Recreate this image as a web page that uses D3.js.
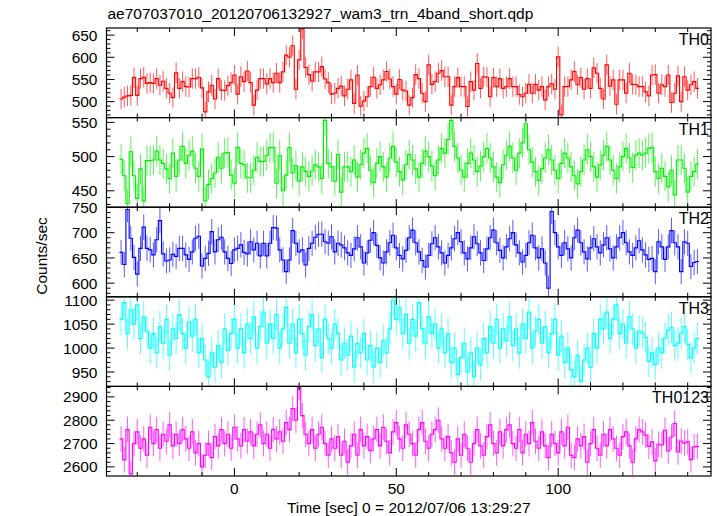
<!DOCTYPE html>
<html><head><meta charset="utf-8">
<script src="https://cdn.jsdelivr.net/npm/d3@7"></script>
<style>body{margin:0;background:#fff}svg{display:block}text{font-family:"Liberation Sans",Arial,Helvetica,sans-serif}</style>
</head><body><svg id="c" width="717" height="516"></svg>
<script>
// ---- data (1-s bins, t = -35 ... 143) ----
const tFirst = -35, tLast = 143;
const panelNames = ["TH0", "TH1", "TH2", "TH3", "TH0123"];
const th0 = [506,510,513,514,554,514,552,555,541,543,541,552,537,546,530,519,509,565,530,545,
534,533,552,552,555,531,477,522,537,506,552,526,525,536,543,560,517,556,545,569,
543,492,526,552,552,540,552,543,564,543,567,605,600,626,528,594,664,577,561,546,
567,567,579,551,543,517,519,530,535,513,528,
549,496,560,490,501,511,534,555,530,538,549,568,551,534,517,550,526,524,492,509,
561,552,519,500,583,539,545,564,570,556,556,492,534,554,534,534,489,545,526,586,
530,556,555,511,554,534,552,530,534,552,534,534,516,511,519,539,519,539,526,534,
504,534,540,528,601,470,534,534,549,568,538,554,528,552,530,576,564,530,506,583,
535,549,494,549,549,519,564,539,538,534,534,522,513,560,561,519,538,534,560,498,
519,558,500,556,526,538,545,530];
const th1 = [496,472,431,507,472,439,482,435,494,494,495,508,495,490,482,468,505,471,495,515,
490,502,508,483,471,511,435,459,468,476,499,483,505,506,473,461,513,490,488,469,
469,480,499,493,493,502,513,513,461,502,450,473,513,476,487,464,485,478,471,479,
488,485,468,553,490,485,464,503,448,485,485,
478,495,470,488,505,512,480,462,490,500,485,470,498,515,492,478,466,488,503,495,
482,470,490,508,500,486,472,495,512,505,525,553,515,498,480,470,490,505,495,478,
486,500,512,498,485,470,462,488,502,515,498,480,505,520,548,510,492,478,465,482,
498,510,495,480,468,490,505,498,485,472,460,478,495,510,500,485,470,488,502,515,
495,480,468,485,500,512,498,484,502,505,
502,505,512,513,478,468,483,471,456,480,444,495,495,483,448,471,478,489];
const th2 = [661,637,746,689,651,618,669,711,669,666,656,686,724,658,644,646,657,653,669,669,
656,647,662,689,693,634,649,659,702,662,686,691,662,649,639,666,669,676,661,658,
682,666,679,654,679,654,679,710,709,666,646,623,646,704,679,662,666,636,669,679,
691,697,697,682,679,692,662,679,676,670,660,
655,668,690,672,640,660,685,700,675,650,640,662,680,695,670,655,648,665,690,705,
680,662,645,632,655,678,690,672,660,640,655,670,688,700,682,660,648,670,692,678,
660,645,668,690,705,680,665,650,672,688,700,676,660,642,655,680,695,670,650,668,
640,590,742,700,672,655,680,668,650,690,705,680,662,648,670,688,672,660,676,690,
668,650,672,690,700,680,662,655,670,684,
666,656,647,649,623,682,672,647,672,704,680,672,623,682,679,633,641,643];
const th3 = [1060,1095,1030,1080,1050,1090,1020,1065,1035,1000,1030,990,1045,1010,1060,985,1040,1020,1070,1030,
1000,1055,1025,1060,990,1020,975,940,990,960,1005,970,1040,995,1030,1060,1000,1040,990,1050,
1020,1065,1000,1045,1075,1010,1050,1020,1070,1000,1040,1085,1010,1050,990,1060,1030,985,1045,1070,
1005,1040,980,1060,1020,1000,1050,1030,975,1010,985,1025,960,1010,990,1030,975,1005,960,1000,
970,1015,990,1040,1100,1060,1085,1030,1070,1010,1060,1025,1095,1040,1010,1065,1030,1050,1000,1040,
990,1030,970,1000,945,980,1010,950,990,940,1000,965,1020,990,1045,1010,1060,1000,1040,1015,
1065,1005,1040,990,1050,1020,1075,1000,1035,1060,1010,1045,990,1030,1060,985,1025,970,1000,955,
940,985,930,975,1000,960,1030,1000,1060,1040,1075,1020,1060,1090,1030,1050,1010,1065,1040,1000,1035,
1031,1022,972,990,966,1000,990,1021,1038,1043,1005,1010,1031,1045,1008,979,1000,1020];
const th0123 = [2720,2630,2760,2570,2700,2750,2680,2720,2650,2770,2700,2760,2680,2740,2710,2780,2690,2740,2700,2760,
2720,2680,2750,2660,2700,2600,2650,2700,2640,2730,2690,2760,2700,2740,2680,2770,2720,2690,2760,2710,
2750,2690,2740,2780,2700,2740,2680,2760,2720,2750,2710,2790,2760,2850,2800,2940,2820,2740,2700,2760,
2680,2740,2770,2700,2650,2720,2680,2730,2650,2710,2620,2690,2740,2650,2760,2690,2730,2670,2720,2760,
2690,2770,2710,2660,2750,2790,2720,2680,2780,2740,2700,2650,2760,2790,2710,2680,2740,2760,2800,2720,
2680,2730,2660,2620,2720,2650,2740,2680,2620,2700,2760,2690,2650,2730,2780,2700,2660,2750,2690,2760,
2780,2700,2680,2760,2660,2740,2700,2790,2710,2680,2750,2690,2640,2740,2700,2660,2750,2690,2770,2650,
2640,2720,2690,2730,2620,2700,2760,2680,2650,2740,2690,2760,2720,2680,2650,2730,2750,2690,2620,2720,2760,
2750,2736,2688,2707,2626,2697,2694,2757,2668,2728,2786,2664,2711,2702,2707,2631,2686,2688];
const errHalf = [23, 22, 25, 33, 55];
const yDomains = [[464,666],[426,557],[573,750.5],[920,1107],[2561,2945]];
const yTickVals = [[500,550,600,650],[450,500,550],[600,650,700,750],[950,1000,1050,1100],[2600,2700,2800,2900]];
const yMinorStep = [10,10,10,10,20];
const xTickVals = [0,50,100];
const colors = ["#ff0000","#00ee00","#0000ff","#00ffff","#ff00ff"];
const titleText = "ae707037010_20120706132927_wam3_trn_4band_short.qdp";
const xLabel = "Time [sec] 0 = 2012/07/06 13:29:27";
const yLabel = "Counts/sec";
const series = [th0, th1, th2, th3, th0123];

// ---- layout ----
const L = 106.5, R = 711, T = 28, B = 476;
const ph = (B - T) / 5;
const svg = d3.select("#c");
svg.append("rect").attr("width",717).attr("height",516).attr("fill","#fff");
const x = d3.scaleLinear().domain([-39.5, 147.2]).range([L, R]);
const times = d3.range(tFirst, tLast + 1);
const font = "15.5px";

series.forEach((vals, p) => {
  const top = T + p * ph, bot = top + ph;
  const y = d3.scaleLinear().domain(yDomains[p]).range([bot, top]);
  const g = svg.append("g");
  const clipId = "clip" + p;
  svg.append("clipPath").attr("id", clipId).append("rect")
    .attr("x", L).attr("y", top).attr("width", R - L).attr("height", ph);
  const pg = g.append("g").attr("clip-path", `url(#${clipId})`);
  const data = times.map((t, i) => ({t, v: vals[i]})).filter(d => d.v !== undefined);
  pg.selectAll("line.err").data(data).join("line").attr("class","err")
    .attr("x1", d => x(d.t)).attr("x2", d => x(d.t))
    .attr("y1", d => y(d.v - errHalf[p])).attr("y2", d => y(d.v + errHalf[p]))
    .attr("stroke", colors[p]).attr("stroke-width", 1).attr("opacity", 0.65);
  const pts = [];
  data.forEach(d => { pts.push([d.t - 0.5, d.v]); pts.push([d.t + 0.5, d.v]); });
  pg.append("path").attr("d", d3.line().x(d => x(d[0])).y(d => y(d[1]))(pts))
    .attr("fill","none").attr("stroke", colors[p]).attr("stroke-width", 1.15);

  const minor = d3.range(Math.ceil(yDomains[p][0]/yMinorStep[p])*yMinorStep[p], yDomains[p][1], yMinorStep[p]);
  const tk = g.append("g").attr("stroke","#000").attr("stroke-width",1);
  minor.forEach(v => {
    const major = yTickVals[p].includes(v);
    const len = major ? 8 : 4;
    tk.append("line").attr("x1",L).attr("x2",L+len).attr("y1",y(v)).attr("y2",y(v));
    tk.append("line").attr("x1",R).attr("x2",R-len).attr("y1",y(v)).attr("y2",y(v));
  });
  d3.range(-30, 147, 10).forEach(t => {
    const len = (t % 50 === 0) ? 8 : 4;
    tk.append("line").attr("x1",x(t)).attr("x2",x(t)).attr("y1",top).attr("y2",top+len);
    tk.append("line").attr("x1",x(t)).attr("x2",x(t)).attr("y1",bot).attr("y2",bot-len);
  });
  g.selectAll("text.yl").data(yTickVals[p]).join("text").attr("class","yl")
    .attr("x", L - 9).attr("y", d => y(d)).attr("dy","0.36em")
    .attr("text-anchor","end").attr("font-size",font).attr("fill","#000").text(d => d);
  g.append("rect").attr("x",L).attr("y",top).attr("width",R-L).attr("height",ph)
    .attr("fill","none").attr("stroke","#000").attr("stroke-width",1.2);
  g.append("text").attr("x", R - 2).attr("y", top + 17).attr("text-anchor","end")
    .attr("font-size","16px").attr("fill","#000").text(panelNames[p]);
});

svg.selectAll("text.xl").data(xTickVals).join("text").attr("class","xl")
  .attr("x", d => x(d)).attr("y", B + 18).attr("text-anchor","middle")
  .attr("font-size",font).attr("fill","#000").text(d => d);
svg.append("text").attr("x", (L+R)/2).attr("y", 513).attr("text-anchor","middle")
  .attr("font-size",font).attr("fill","#000").text(xLabel);
svg.append("text").attr("transform", `translate(47,${(T+B)/2 + 4}) rotate(-90)`)
  .attr("text-anchor","middle").attr("font-size","15.5px").attr("fill","#000").text(yLabel);
svg.append("text").attr("x", L + 1).attr("y", 19).attr("font-size","15.5px").attr("fill","#000").text(titleText);
</script></body></html>
